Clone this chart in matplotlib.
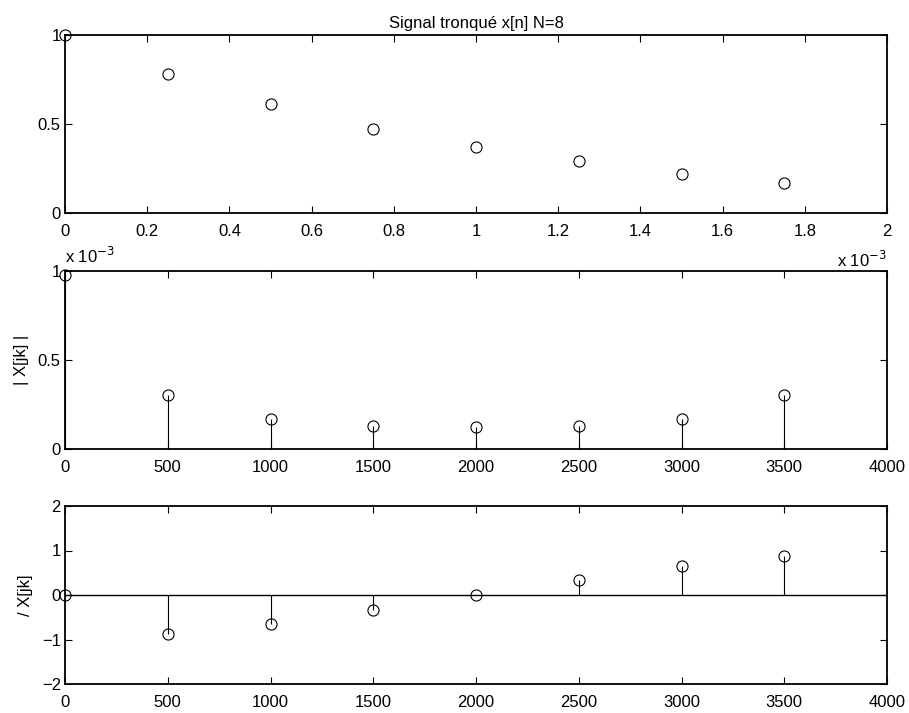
import matplotlib

matplotlib.use("Agg")
import matplotlib.pyplot as plt
import numpy as np

plt.rcParams["font.family"] = ["Liberation Sans", "DejaVu Sans"]
plt.rcParams["font.size"] = 12

# truncated signal, N = 8 samples (Ts = 0.25 ms)
t_samples = [0.0, 0.25e-3, 0.5e-3, 0.75e-3, 1.0e-3, 1.25e-3, 1.5e-3, 1.75e-3]
x_n = [1.0, 0.78, 0.61, 0.47, 0.37, 0.29, 0.22, 0.17]

# DFT bins (Hz), magnitude and phase
freqs = [0, 500, 1000, 1500, 2000, 2500, 3000, 3500]
mag = [0.977e-3, 0.306e-3, 0.171e-3, 0.131e-3, 0.122e-3, 0.131e-3, 0.171e-3, 0.306e-3]
phase = [0.0, -0.88, -0.65, -0.33, 0.0, 0.33, 0.65, 0.88]

title_text = "Signal tronqué x[n] N=8"
mag_label = "| X[jk] |"
phase_label = "/ X[jk]"
exp_text = r"x 10$^{-3}$"

W, H = 909, 713
fig = plt.figure(figsize=(W / 100, H / 100), dpi=100)


def px_axes(left, top, right, bottom):
    return fig.add_axes([left / W, 1 - bottom / H, (right - left) / W, (bottom - top) / H])


def style(ax):
    for sp in ax.spines.values():
        sp.set_linewidth(1.3)
    ax.tick_params(direction="in", length=5, width=0.8, top=True, right=True)
    ax.tick_params(axis="x", pad=8)
    ax.tick_params(axis="y", pad=3)


def fmt(v):
    return f"{v:g}".replace("-", "\u2212")


def draw_stems(ax, x, y):
    markers, stems, base = ax.stem(x, y, linefmt="k-", markerfmt="ko", basefmt=" ")
    stems.set_linewidth(0.8)
    markers.set_markerfacecolor("none")
    markers.set_markersize(8)
    markers.set_markeredgewidth(0.8)
    markers.set_clip_on(False)


# signal samples
ax1 = px_axes(65, 35, 887, 213)
ax1.plot(t_samples, x_n, "o", color="k", mfc="none", ms=8, mew=0.8, clip_on=False)
ax1.set_xlim(0, 2e-3)
ax1.set_ylim(0, 1)
xt = np.arange(0, 2.01, 0.2)
ax1.set_xticks(xt * 1e-3)
ax1.set_xticklabels([fmt(round(v, 1)) for v in xt])
ax1.set_yticks([0, 0.5, 1])
ax1.set_yticklabels(["0", "0.5", "1"])
ax1.set_title(title_text, fontsize=12, pad=5)
style(ax1)
fig.text(887 / W, 1 - 267 / H, exp_text, ha="right", va="baseline", fontsize=12)

# magnitude spectrum
ax2 = px_axes(65, 271, 887, 449)
draw_stems(ax2, freqs, mag)
ax2.set_xlim(0, 4000)
ax2.set_ylim(0, 1e-3)
ax2.set_xticks(np.arange(0, 4001, 500))
ax2.set_xticklabels([fmt(v) for v in np.arange(0, 4001, 500)])
ax2.set_yticks([0, 0.5e-3, 1e-3])
ax2.set_yticklabels(["0", "0.5", "1"])
ax2.set_ylabel(mag_label)
ax2.yaxis.set_label_coords(-0.044, 0.5)
style(ax2)
fig.text(65 / W, 1 - 263 / H, exp_text, ha="left", va="baseline", fontsize=12)

# phase spectrum
ax3 = px_axes(65, 506, 887, 684)
ax3.axhline(0, color="k", lw=1.0)
draw_stems(ax3, freqs, phase)
ax3.set_xlim(0, 4000)
ax3.set_ylim(-2, 2)
ax3.set_xticks(np.arange(0, 4001, 500))
ax3.set_xticklabels([fmt(v) for v in np.arange(0, 4001, 500)])
ax3.set_yticks([-2, -1, 0, 1, 2])
ax3.set_yticklabels([fmt(v) for v in [-2, -1, 0, 1, 2]])
ax3.set_ylabel(phase_label)
ax3.yaxis.set_label_coords(-0.039, 0.5)
style(ax3)

fig.savefig("out.png", dpi=100)
